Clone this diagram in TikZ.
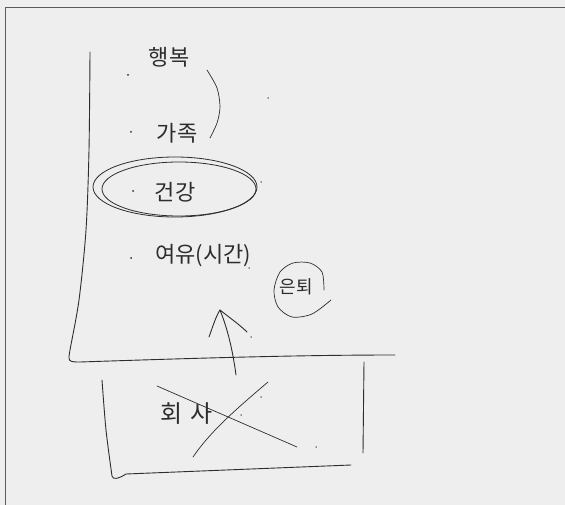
\documentclass[tikz,border=0pt]{standalone}
\usepackage{fontspec}
\newfontfamily\kr{Noto Sans CJK KR}
\definecolor{board}{RGB}{238,238,238}
\definecolor{ink}{RGB}{45,45,45}
\definecolor{frame}{RGB}{90,90,90}
\begin{document}
\begin{tikzpicture}[x=1pt,y=-1pt,
  pen/.style={draw=ink,line width=0.9pt,line cap=round,line join=round},
  word/.style={font=\kr\fontsize{22}{24}\selectfont,text=ink,inner sep=0pt},
  speck/.style={fill=ink,circle,inner sep=0pt,minimum size=2pt}]
\fill[board] (0,0) rectangle (565,505);
\useasboundingbox (0,0) rectangle (565,505);
\draw[draw=frame,line width=1.5pt] (5.5,505) -- (5.5,7.5) -- (565,7.5);

% texts
\node[word] (happy) at (169,57) {행복};
\node[word] (family) at (177,133) {가족};
\node[word] (health) at (175,192) {건강};
\node[word] (leisure) at (203,256) {여유(시간)};
\node[word,font=\kr\fontsize{18}{20}\selectfont] (retire) at (296,287) {은퇴};
\node[word,font=\kr\fontsize{24}{26}\selectfont] (company) at (187,414) {회\hspace{8pt}사};

% bullets and specks
\node[speck] (b1) at (128,75) {};
\node[speck] (b2) at (131,132) {};
\node[speck] (b3) at (133,191) {};
\node[speck] (b4) at (131,258) {};
\node[speck,minimum size=1.5pt] (s1) at (268,98) {};
\node[speck,minimum size=1.5pt] (s2) at (261,182) {};
\node[speck,minimum size=1.5pt] (s3) at (249,268) {};
\node[speck,minimum size=1.5pt] (s4) at (251,337) {};
\node[speck,minimum size=1.5pt] (s5) at (261,397) {};
\node[speck,minimum size=1.5pt] (s6) at (241,415) {};
\node[speck,minimum size=1.5pt] (s7) at (316,447) {};

% arc from happiness to family
\draw[pen,line width=0.7pt] plot[smooth] coordinates {(207,70) (217,88) (220,107) (217,123) (210,138)};

% double ellipse around health
\draw[pen,line width=0.8pt] (175,187) ellipse [x radius=82, y radius=30];
\draw[pen,line width=0.8pt] (179,189) ellipse [x radius=77, y radius=27];

% circle around retirement
\draw[pen,line width=0.7pt] plot[smooth] coordinates {(324,290) (322,272) (310,263) (293,263) (280,272) (274,290) (278,307) (292,317) (312,314) (331,300)};

% axis
\coordinate (axtop) at (90,52);
\coordinate (axend) at (395,355);
\draw[pen] plot[smooth] coordinates {(axtop) (89,150) (86,230) (79,300) (70,350) (69,358)}
  .. controls (69,362) and (73,362) .. (80,362) .. controls (200,358) and (300,355) .. (axend);

% company box
\draw[pen] plot[smooth] coordinates {(102,380) (106,430) (112,476)} .. controls (113,480) and (118,479) .. (126,474) -- (351,465);
\draw[pen] (364,362) -- (363,453);

% cross-out
\draw[pen,line width=0.7pt] (157,386) -- (297,447);
\draw[pen,line width=0.7pt] (268,382) .. controls (235,410) and (210,432) .. (193,457);

% arrow upward
\coordinate (tail) at (236,375);
\coordinate (tip) at (220,310);
\draw[pen] (tail) .. controls (232,345) and (226,325) .. (tip);
\draw[pen] (209,337) .. controls (213,326) and (216,316) .. (tip) .. controls (230,318) and (240,325) .. (247,332);
\end{tikzpicture}
\end{document}
